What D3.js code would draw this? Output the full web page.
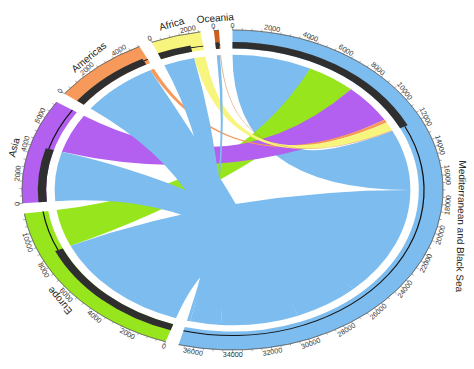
<!DOCTYPE html>
<html>
<head>
<script src="https://cdn.jsdelivr.net/npm/d3@7"></script>
<style>
body{margin:0;background:#fff}
text{font-family:"Liberation Sans",Arial,sans-serif}
</style>
</head>
<body>
<svg width="474" height="369"></svg>
<script>
// sectors, clockwise from the top
const sectors=["Mediterranean and Black Sea","Europe","Asia","Americas","Africa","Oceania"];
const sectorColors=["#7dbcee","#97e51d","#b35ff0","#f6995a","#f8f57f","#cc5f1c"];

// flows (drawn in this order)
const flowFrom =["Mediterranean and Black Sea","Europe","Asia","Americas","Africa","Oceania",
  "Mediterranean and Black Sea","Mediterranean and Black Sea","Mediterranean and Black Sea",
  "Mediterranean and Black Sea","Mediterranean and Black Sea"];
const flowTo   =["Mediterranean and Black Sea","Mediterranean and Black Sea","Mediterranean and Black Sea",
  "Mediterranean and Black Sea","Mediterranean and Black Sea","Mediterranean and Black Sea",
  "Europe","Asia","Americas","Africa","Oceania"];
const flowValue=[4900,3000,3200,250,700,60,8900,4000,4800,1900,200];

const tickStep=2000, minorStep=500;

const svgWidth=474, svgHeight=369;
const cx=232.5, cy=190, rx=210.5, ry=160;
const R=100;               // drawing radius before the elliptic stretch
const gap=3.7*Math.PI/180;

const svg=d3.select("svg");
const color=d3.scaleOrdinal().domain(sectors).range(sectorColors);
const idx=s=>sectors.indexOf(s);

// sector sizes (a self flow counts at both ends)
const total=sectors.map(s=>d3.sum(flowValue.filter((v,i)=>flowFrom[i]===s||flowTo[i]===s))
  + d3.sum(flowValue.filter((v,i)=>flowFrom[i]===s&&flowTo[i]===s)));
const k=(2*Math.PI-sectors.length*gap)/d3.sum(total);

const start=[];
let acc=0;
sectors.forEach((s,i)=>{start.push(acc); acc+=total[i]*k+gap;});

// link ends inside each sector: incoming first, then outgoing, both in sector order
const ends=flowValue.map(()=>({}));
const incoming=[];
sectors.forEach((s,si)=>{
  let pos=start[si];
  const inc=flowValue.map((v,i)=>i).filter(i=>flowTo[i]===s)
    .sort((a,b)=>idx(flowFrom[a])-idx(flowFrom[b]));
  inc.forEach(i=>{ends[i].target={startAngle:pos,endAngle:pos+flowValue[i]*k}; pos+=flowValue[i]*k;});
  incoming.push(pos);
  const out=flowValue.map((v,i)=>i).filter(i=>flowFrom[i]===s)
    .sort((a,b)=>idx(flowTo[a])-idx(flowTo[b]));
  out.forEach(i=>{ends[i].source={startAngle:pos,endAngle:pos+flowValue[i]*k}; pos+=flowValue[i]*k;});
});

const g=svg.append("g")
  .attr("transform",`translate(${cx},${cy}) scale(${rx/R},${ry/R})`);

// chords
const ribbon=d3.ribbon().radius(84.5);
g.append("g").selectAll("path")
  .data(ends)
  .join("path")
  .attr("d",ribbon)
  .attr("fill",(d,i)=>color(flowFrom[i]))
  .attr("fill-opacity",(d,i)=>flowFrom[i]==="Oceania"?0.5:1);

// sector band
const band=d3.arc().innerRadius(88.5).outerRadius(100);
g.append("g").selectAll("path")
  .data(sectors)
  .join("path")
  .attr("d",(s,i)=>band({startAngle:start[i],endAngle:start[i]+total[i]*k}))
  .attr("fill",s=>color(s));

// incoming bar and outgoing line
const bar=d3.arc().innerRadius(88.5).outerRadius(92.5);
const line=d3.arc().innerRadius(90.7).outerRadius(91.3);
g.append("g").selectAll("path")
  .data(sectors)
  .join("path")
  .attr("d",(s,i)=>bar({startAngle:start[i],endAngle:incoming[i]}))
  .attr("fill","#2f2f2f");
g.append("g").selectAll("path")
  .data(sectors)
  .join("path")
  .attr("d",(s,i)=>line({startAngle:incoming[i],endAngle:start[i]+total[i]*k}))
  .attr("fill","#111");

// axis
const axisArc=d3.arc().innerRadius(100).outerRadius(100);
g.append("g").selectAll("path")
  .data(sectors)
  .join("path")
  .attr("d",(s,i)=>axisArc({startAngle:start[i],endAngle:start[i]+total[i]*k}))
  .attr("fill","none")
  .attr("stroke","#555")
  .attr("stroke-width",0.5)
  .attr("vector-effect","non-scaling-stroke");

const ticks=[];
sectors.forEach((s,i)=>{
  d3.range(0,total[i]+1,minorStep).forEach(v=>ticks.push({a:start[i]+v*k,v:v,major:v%tickStep===0}));
});
g.append("g").selectAll("line")
  .data(ticks)
  .join("line")
  .attr("x1",d=>R*Math.sin(d.a))
  .attr("y1",d=>-R*Math.cos(d.a))
  .attr("x2",d=>(R+(d.major?2.2:1.2))*Math.sin(d.a))
  .attr("y2",d=>-(R+(d.major?2.2:1.2))*Math.cos(d.a))
  .attr("stroke","#555")
  .attr("stroke-width",0.5)
  .attr("vector-effect","non-scaling-stroke");

// tick labels
const deg=a=>a*180/Math.PI;
svg.append("g").selectAll("text")
  .data(ticks.filter(d=>d.major))
  .join("text")
  .attr("transform",d=>{
    let r=deg(d.a);
    if(r>90&&r<270) r-=180;
    return `translate(${cx+(rx+5.5)*Math.sin(d.a)},${cy-(ry+4.5)*Math.cos(d.a)}) rotate(${r})`;
  })
  .attr("text-anchor","middle")
  .attr("dominant-baseline","central")
  .style("font-size","7.2px")
  .attr("fill","#333")
  .text(d=>d.v);

// sector names (the long one sits a little lower and straighter)
const nameNudge={"Mediterranean and Black Sea":{dx:5,dy:14,rot:-6}};
svg.append("g").selectAll("text")
  .data(sectors)
  .join("text")
  .attr("transform",(s,i)=>{
    const a=start[i]+total[i]*k/2;
    const n=nameNudge[s]||{dx:0,dy:0,rot:0};
    return `translate(${cx+(rx+15)*Math.sin(a)+n.dx},${cy-(ry+12.5)*Math.cos(a)+n.dy}) rotate(${deg(a)+n.rot})`;
  })
  .attr("text-anchor","middle")
  .attr("dominant-baseline","central")
  .style("font-size","10px")
  .attr("fill","#222")
  .text(s=>s);
</script>
</body>
</html>
